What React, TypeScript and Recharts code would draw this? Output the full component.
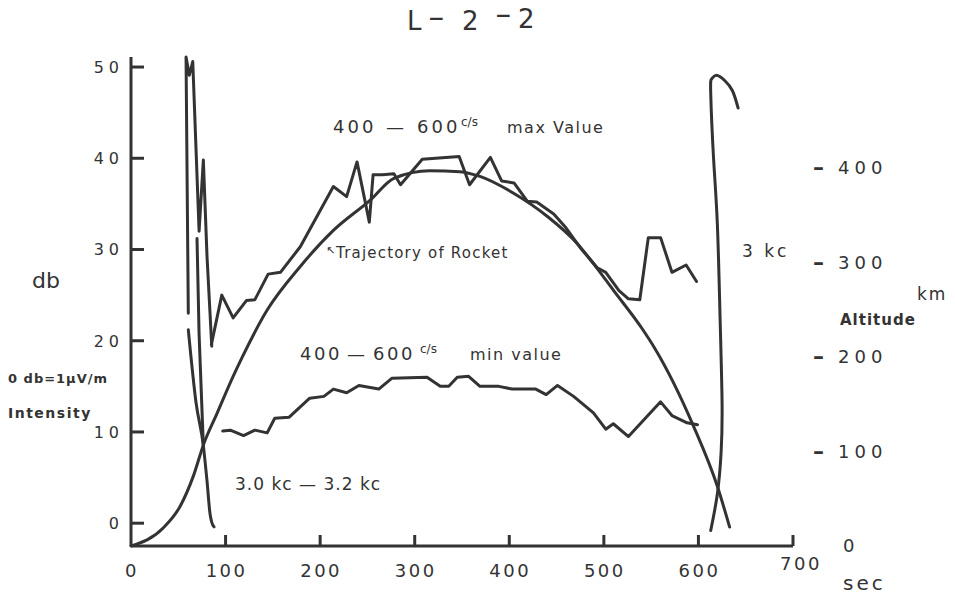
import React from 'react';
import { LineChart, Line, XAxis, YAxis } from 'recharts';

const INK = '#333333';
const FONT = '"DejaVu Sans", Verdana, sans-serif';

// Time axis ticks (sec)
const secTicks = [0, 100, 200, 300, 400, 500, 600, 700];
// Left axis ticks (db)
const dbTicks = [0, 10, 20, 30, 40, 50];
// Right axis ticks (km)
const kmTicks = [0, 100, 200, 300, 400];

// 400-600 c/s max value (db)
const maxT = [85, 96, 108, 122, 131, 145, 158, 179, 214, 228, 239, 252, 256, 266, 278, 285, 308, 347, 358, 380, 392, 405, 419, 429, 447, 459, 475, 493, 502, 516, 526, 538, 547, 560, 572, 587, 598];
const maxDb = [19.6, 25.0, 22.5, 24.4, 24.5, 27.3, 27.5, 30.3, 36.9, 35.8, 39.6, 33.0, 38.2, 38.2, 38.3, 37.1, 39.9, 40.2, 37.1, 40.1, 37.5, 37.3, 35.3, 35.2, 33.9, 32.5, 30.2, 28.0, 27.5, 25.5, 24.6, 24.5, 31.3, 31.3, 27.5, 28.3, 26.5];

// 400-600 c/s min value (db)
const minT = [97, 105, 119, 131, 144, 152, 167, 189, 204, 214, 228, 241, 262, 276, 313, 327, 336, 345, 357, 369, 389, 403, 428, 439, 451, 468, 489, 502, 510, 526, 560, 572, 588, 599];
const minDb = [10.1, 10.2, 9.6, 10.2, 9.9, 11.5, 11.6, 13.7, 13.9, 14.7, 14.3, 15.1, 14.7, 15.9, 16.0, 15.0, 15.0, 16.0, 16.1, 15.0, 15.0, 14.7, 14.7, 14.1, 15.1, 13.9, 12.1, 10.3, 10.9, 9.5, 13.3, 11.8, 11.0, 10.8];

// Trajectory of rocket (altitude, km)
const trajT = [0, 34, 52, 66, 77, 91, 108, 117, 144, 179, 214, 253, 278, 316, 348, 369, 405, 440, 472, 489, 510, 540, 553, 595, 620, 633];
const trajKm = [0, 19, 42, 74, 108, 140, 179, 198, 249, 295, 333, 365, 388, 396, 395, 390, 372, 348, 319, 298, 270, 230, 210, 126, 63, 20];

// 3.0 kc - 3.2 kc, early traces (db)
const kcAT = [60.6, 58.2, 61.7, 65.3, 72.0, 76.5, 80.4, 85.4];
const kcADb = [23.0, 51.1, 49.1, 50.6, 32.0, 39.8, 29.2, 19.4];
const kcBT = [60.6, 68.8, 76.5, 80.4, 83.6, 85.4, 87.8];
const kcBDb = [21.2, 13.2, 8.5, 4.6, 1.0, 0.1, -0.4];
const kcCT = [69.8, 72.0, 76.5];
const kcCDb = [31.2, 20.7, 8.5];

// 3 kc, late trace (db)
const kc3T = [613, 620, 624, 625, 623, 620, 616, 613, 614, 619, 628, 636, 642];
const kc3Db = [-0.8, 3.2, 7.8, 13.2, 22.1, 32.8, 40.0, 47.1, 48.7, 49.1, 48.5, 47.4, 45.5];

const rows = (ts: number[], vs: number[]) => ts.map((t, i) => ({ t, v: vs[i] }));

const XTick = (props: any) => {
  const { x, y, payload } = props;
  const v = payload.value;
  const hi = v === 700;
  return (
    <g>
      {v > 0 && <line x1={x} x2={x} y1={y} y2={y - 11} stroke={INK} strokeWidth={3} />}
      <text x={x + (hi ? 8 : 1)} y={y + (hi ? 24 : 31)} textAnchor="middle" fontSize={18} letterSpacing={2.5} fill={INK} fontFamily={FONT}>
        {String(v)}
      </text>
    </g>
  );
};

const LeftTick = (props: any) => {
  const { x, y, payload } = props;
  return (
    <g>
      <line x1={x} x2={x + 13} y1={y} y2={y} stroke={INK} strokeWidth={3} />
      <text x={x - 7} y={y + 6} textAnchor="end" fontSize={16} letterSpacing={5} fill={INK} fontFamily={FONT}>
        {String(payload.value)}
      </text>
    </g>
  );
};

const RightTick = (props: any) => {
  const { x, y, payload } = props;
  const v = payload.value;
  if (v === 0) {
    return (
      <text x={x + 50} y={y + 6} fontSize={18} fill={INK} fontFamily={FONT}>0</text>
    );
  }
  return (
    <g>
      <text x={x + 20} y={y + 8} fontSize={22} fontWeight="bold" fill={INK} fontFamily={FONT}>–</text>
      <text x={x + 45} y={y + 7} fontSize={18} letterSpacing={5} fill={INK} fontFamily={FONT}>{String(v)}</text>
    </g>
  );
};

const lineProps = {
  dataKey: 'v',
  stroke: INK,
  strokeWidth: 3,
  dot: false,
  activeDot: false,
  isAnimationActive: false,
  strokeLinejoin: 'round' as const,
  strokeLinecap: 'round' as const,
};

export default function App() {
  const T = { fill: INK, fontFamily: FONT } as const;
  return (
    <div style={{ position: 'absolute', left: 0, top: 0, width: 955, height: 597, background: '#fff' }}>
      <LineChart width={955} height={597} margin={{ top: 57, right: 0, bottom: 0, left: 0 }}>
        <XAxis
          dataKey="t"
          type="number"
          domain={[0, 700]}
          ticks={secTicks}
          interval={0}
          height={51}
          tickSize={0}
          tickMargin={0}
          tickLine={false}
          axisLine={{ stroke: INK, strokeWidth: 3 }}
          tick={<XTick />}
        />
        <YAxis
          yAxisId="db"
          orientation="left"
          type="number"
          domain={[-2.5, 50]}
          ticks={dbTicks}
          interval={0}
          width={131}
          tickSize={0}
          tickMargin={0}
          tickLine={false}
          axisLine={{ stroke: INK, strokeWidth: 3 }}
          tick={<LeftTick />}
        />
        <YAxis
          yAxisId="km"
          orientation="right"
          type="number"
          domain={[0, 516]}
          ticks={kmTicks}
          interval={0}
          width={162}
          tickSize={0}
          tickMargin={0}
          tickLine={false}
          axisLine={false}
          tick={<RightTick />}
        />
        <Line {...lineProps} yAxisId="km" data={rows(trajT, trajKm)} type="monotone" />
        <Line {...lineProps} yAxisId="db" data={rows(maxT, maxDb)} type="linear" />
        <Line {...lineProps} yAxisId="db" data={rows(minT, minDb)} type="linear" />
        <Line {...lineProps} yAxisId="db" data={rows(kcAT, kcADb)} type="linear" />
        <Line {...lineProps} yAxisId="db" data={rows(kcBT, kcBDb)} type="monotone" />
        <Line {...lineProps} yAxisId="db" data={rows(kcCT, kcCDb)} type="linear" />
        <Line {...lineProps} yAxisId="db" data={rows(kc3T, kc3Db)} type="natural" />
      </LineChart>
      <svg width={955} height={597} style={{ position: 'absolute', left: 0, top: 0, pointerEvents: 'none' }}>
        <text x={407} y={30} fontSize={26} {...T}>L</text>
        <text x={428} y={25} fontSize={20} fontWeight="bold" {...T}>−</text>
        <text x={462} y={30} fontSize={26} {...T}>2</text>
        <text x={495} y={22} fontSize={20} fontWeight="bold" {...T}>−</text>
        <text x={518} y={28} fontSize={26} {...T}>2</text>

        <text y={133} fontSize={18} {...T}>
          <tspan x={333} letterSpacing={3}>400</tspan>
          <tspan x={386}>—</tspan>
          <tspan x={417} letterSpacing={3}>600</tspan>
          <tspan x={461} dy={-7} fontSize={12}>c/s</tspan>
          <tspan x={507} dy={7} fontSize={16} letterSpacing={1.5}>max Value</tspan>
        </text>

        <text y={258} fontSize={15} {...T}>
          <tspan x={326} dy={-4} fontSize={11}>↖</tspan>
          <tspan x={336} dy={4} letterSpacing={1.2}>Trajectory of Rocket</tspan>
        </text>

        <text y={360} fontSize={18} {...T}>
          <tspan x={300} letterSpacing={2.5}>400</tspan>
          <tspan x={347}>—</tspan>
          <tspan x={373} letterSpacing={2.5}>600</tspan>
          <tspan x={420} dy={-7} fontSize={12}>c/s</tspan>
          <tspan x={470} dy={7} fontSize={16} letterSpacing={1.5}>min value</tspan>
        </text>

        <text x={235} y={490} fontSize={17} letterSpacing={1} {...T}>3.0 kc — 3.2 kc</text>
        <text x={742} y={257} fontSize={17} letterSpacing={3} {...T}>3 kc</text>

        <text x={32} y={288} fontSize={22} {...T}>db</text>
        <text x={8} y={383} fontSize={13} fontWeight="bold" letterSpacing={1} {...T}>0 db=1μV/m</text>
        <text x={8} y={418} fontSize={14} fontWeight="bold" letterSpacing={1.5} {...T}>Intensity</text>

        <text x={917} y={300} fontSize={17} letterSpacing={2} {...T}>km</text>
        <text x={840} y={325} fontSize={15} fontWeight="bold" letterSpacing={1} {...T}>Altitude</text>
        <text x={843} y={590} fontSize={20} letterSpacing={3} {...T}>sec</text>
      </svg>
    </div>
  );
}
